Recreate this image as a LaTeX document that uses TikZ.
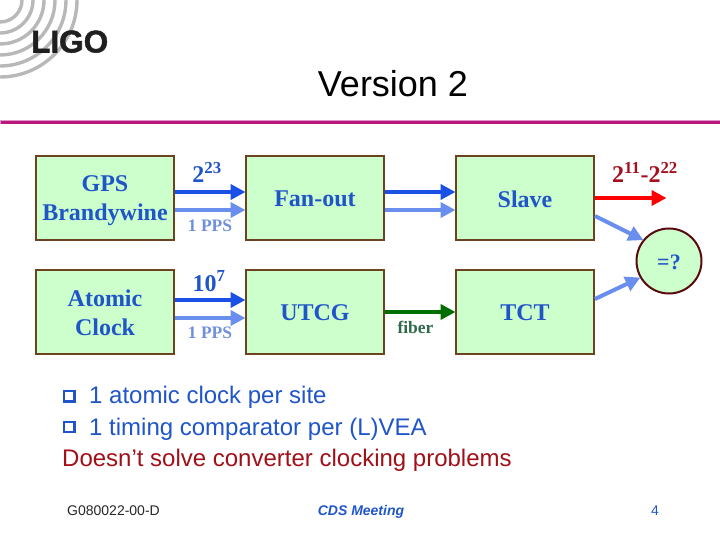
\documentclass[tikz,border=0pt]{standalone}
\usepackage{fontspec}
\setmainfont{Liberation Sans}
\newfontfamily\serifb[BoldFont=Liberation Serif Bold]{Liberation Serif}
\newfontfamily\logofont[FakeBold=1.6]{Liberation Sans Bold}
\usetikzlibrary{arrows.meta}
\newcommand\lowered[2]{\raisebox{-#1}[\height][\depth]{#2}}
\definecolor{boxfill}{HTML}{CCFFCC}
\definecolor{boxline}{HTML}{6B4320}
\definecolor{labblue}{HTML}{1F55C8}
\definecolor{arrblue}{HTML}{1A50E6}
\definecolor{ltblue}{HTML}{6A8EEE}
\definecolor{ltlab}{HTML}{7090DC}
\definecolor{fibgreen}{HTML}{006F00}
\definecolor{fiblab}{HTML}{2F6B4A}
\definecolor{redlab}{HTML}{A50F1E}
\definecolor{magline}{HTML}{B8187F}
\definecolor{bodyred}{HTML}{A01018}
\definecolor{ringred}{HTML}{5A0A0E}
\tikzset{
  x=1pt,y=-1pt,
  blockbox/.style={draw=boxline,fill=boxfill,line width=2pt,minimum width=138pt,minimum height=84pt,inner sep=0pt,anchor=center,text=labblue,align=center,font=\serifb\fontsize{24}{29}\selectfont\bfseries},
  conn/.style={line width=4pt,-{Triangle[length=15pt,width=15pt]},shorten >=-0.5pt},
  main/.style={conn,draw=arrblue},
  light/.style={conn,draw=ltblue},
  smalllab/.style={text=ltlab,font=\serifb\fontsize{17.5}{19}\selectfont\bfseries,inner sep=0pt},
  biglab/.style={text=labblue,font=\serifb\fontsize{24}{28}\selectfont\bfseries,inner sep=0pt},
  bodytxt/.style={anchor=base west,inner sep=0pt,font=\fontsize{24}{28}\selectfont},
  foot/.style={anchor=base,inner sep=0pt,text=labblue,font=\fontsize{14}{16}\selectfont},
  bulletbox/.style={fill=labblue,minimum size=12.5pt,inner sep=0pt},
  arcline/.style={draw=black!28,line width=3.4pt}
}
\begin{document}
\begin{tikzpicture}
\useasboundingbox (0,0) rectangle (720,540);
% logo
\begin{scope}
\clip (0,0) rectangle (240,100);
\foreach \r in {22,33,44,55,66,77} \draw[arcline] (0,0) circle[radius=\r];
\end{scope}
\node[inner sep=0pt,anchor=base west,text=black!88,font=\logofont\fontsize{31.5}{32}\selectfont] (logo) at (31,52.5) {LIGO};
\node[inner sep=0pt,anchor=base,font=\fontsize{36}{40}\selectfont,text=black] (title) at (393,97) {Version 2};
\fill[magline!45] (0,120.5) rectangle (720,124.5);
\fill[magline] (1,121.3) rectangle (720,123.7);
% boxes
\node[blockbox] (gps) at (105,198) {\lowered{3pt}{GPS}\\\lowered{3pt}{Brandywine}};
\node[blockbox] (atomic) at (105,312) {\lowered{1pt}{Atomic}\\\lowered{1pt}{Clock}};
\node[blockbox] (fan) at (315,198) {\lowered{1pt}{Fan-out}};
\node[blockbox] (utcg) at (315,312) {\lowered{1pt}{UTCG}};
\node[blockbox] (slave) at (525,198) {\lowered{1pt}{Slave}};
\node[blockbox] (tct) at (525,312) {\lowered{1pt}{TCT}};
\node[draw=ringred,fill=boxfill,line width=2pt,circle,minimum size=65pt,inner sep=0pt,text=labblue,font=\serifb\fontsize{22}{24}\selectfont\bfseries] (eq) at (669,261) {\lowered{1pt}{=?}};
% connectors
\draw[main] ([yshift=6pt]gps.east) -- ([yshift=6pt]fan.west);
\draw[light] ([yshift=-12pt]gps.east) -- ([yshift=-12pt]fan.west);
\draw[main] ([yshift=12pt]atomic.east) -- ([yshift=12pt]utcg.west);
\draw[light] ([yshift=-6pt]atomic.east) -- ([yshift=-6pt]utcg.west);
\draw[main] ([yshift=6pt]fan.east) -- ([yshift=6pt]slave.west);
\draw[light] ([yshift=-12pt]fan.east) -- ([yshift=-12pt]slave.west);
\draw[conn,draw=fibgreen] (utcg.east) -- (tct.west);
\coordinate (redend) at (666,198);
\draw[conn,draw=red] (slave.east) -- (redend);
\draw[light] ([yshift=-18pt]slave.east) -- (eq.141);
\draw[light] ([yshift=13pt]tct.east) -- (eq.210);
% labels
\node[biglab,anchor=base] (l223) at (207,183) {2\textsuperscript{23}};
\node[biglab,anchor=base] (l107) at (209,291) {10\textsuperscript{7}};
\node[smalllab,anchor=base] (lpps1) at (210,231) {1 PPS};
\node[smalllab,anchor=base] (lpps2) at (210,338.5) {1 PPS};
\node[anchor=base,inner sep=0pt,text=fiblab,font=\serifb\fontsize{17.5}{19}\selectfont\bfseries] (lfib) at (415.5,333) {fiber};
\node[anchor=base,inner sep=0pt,text=redlab,font=\serifb\fontsize{24}{28}\selectfont\bfseries] (lred) at (645,183) {2\textsuperscript{11}-2\textsuperscript{22}};
% body
\node[bulletbox] (b1) at (69.3,396.5) {};
\fill[white] ([shift={(1.9,2)}]b1.north west) rectangle ([shift={(9.8,9.8)}]b1.north west);
\node[bulletbox] (b2) at (69.3,427.2) {};
\fill[white] ([shift={(1.9,2)}]b2.north west) rectangle ([shift={(9.8,9.8)}]b2.north west);
\node[bodytxt,text=labblue] (t1) at (89,403) {1 atomic clock per site};
\node[bodytxt,text=labblue] (t2) at (89,435) {1 timing comparator per (L)VEA};
\node[bodytxt,text=bodyred] (t3) at (62,466) {Doesn’t solve converter clocking problems};
% footer
\node[foot,text=black!85] (f1) at (113.5,515) {G080022-00-D};
\node[foot,font=\fontsize{14}{16}\selectfont\bfseries\itshape] (f2) at (361,515) {CDS Meeting};
\node[foot] (f3) at (655,515) {4};
\end{tikzpicture}
\end{document}
